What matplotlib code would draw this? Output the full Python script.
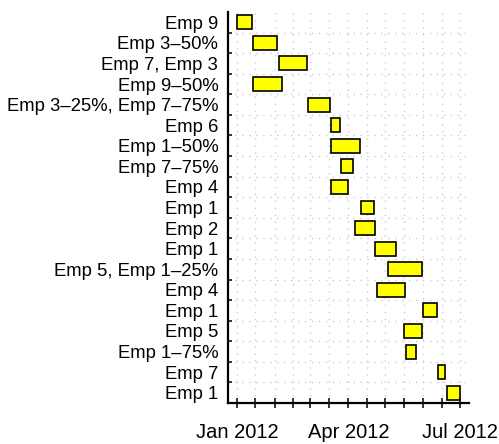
import numpy as np
import pandas as pd
import matplotlib
matplotlib.use("Agg")
import matplotlib.pyplot as plt
import matplotlib.dates as mdates

plt.rcParams["font.family"] = ["Liberation Sans", "DejaVu Sans"]

# task labels, top to bottom
tasks = ["Emp 9", "Emp 3\u201350%", "Emp 7, Emp 3", "Emp 9\u201350%",
         "Emp 3\u201325%, Emp 7\u201375%", "Emp 6", "Emp 1\u201350%",
         "Emp 7\u201375%", "Emp 4", "Emp 1", "Emp 2", "Emp 1",
         "Emp 5, Emp 1\u201325%", "Emp 4", "Emp 1", "Emp 5",
         "Emp 1\u201375%", "Emp 7", "Emp 1"]
starts = ["2012-01-01", "2012-01-14", "2012-02-04", "2012-01-14",
          "2012-02-28", "2012-03-18", "2012-03-18", "2012-03-26",
          "2012-03-18", "2012-04-11", "2012-04-06", "2012-04-23",
          "2012-05-03", "2012-04-24", "2012-06-01", "2012-05-16",
          "2012-05-18", "2012-06-13", "2012-06-20"]
ends = ["2012-01-13", "2012-02-03", "2012-02-27", "2012-02-07",
        "2012-03-17", "2012-03-25", "2012-04-10", "2012-04-05",
        "2012-04-01", "2012-04-22", "2012-04-23", "2012-05-10",
        "2012-05-31", "2012-05-17", "2012-06-12", "2012-05-31",
        "2012-05-26", "2012-06-19", "2012-07-01"]

start_num = mdates.date2num(pd.to_datetime(starts))
end_num = mdates.date2num(pd.to_datetime(ends))
rows = np.arange(len(tasks))

fig = plt.figure(figsize=(4.99, 4.44), dpi=100)
ax = fig.add_axes([228 / 499, 1 - 403 / 444, 241 / 499, 391 / 444])

ax.barh(rows, end_num - start_num, left=start_num, height=0.68,
        color="#ffff00", edgecolor="black", linewidth=1.2, zorder=3)

# R style 4% extension of the date range
lo, hi = start_num.min(), end_num.max()
pad = 0.04 * (hi - lo)
ax.set_xlim(lo - pad, hi + pad)
ax.set_ylim(len(tasks) - 0.5, -0.5)

# x axis: half-month ticks, labels every quarter
ax.xaxis.set_major_locator(mdates.MonthLocator(bymonth=[1, 4, 7]))
ax.xaxis.set_major_formatter(mdates.DateFormatter("%b %Y"))
ax.xaxis.set_minor_locator(mdates.DayLocator(bymonthday=[1, 16]))
ax.tick_params(axis="x", which="both", direction="inout", length=7,
               width=1.1, labelsize=14.5, pad=11)

ax.set_yticks(rows)
ax.set_yticklabels(tasks)
ax.set_yticks(rows[:-1] + 0.5, minor=True)
ax.tick_params(axis="y", which="major", length=0, labelsize=13.3, pad=7)
ax.tick_params(axis="y", which="minor", direction="in", length=3, width=1.1)

# dotted grid
grid_x = list(ax.get_xticks(minor=True)) + list(ax.get_xticks())
for t in grid_x:
    ax.axvline(t, color="#cccccc", lw=1, ls=(0, (1, 4)), zorder=1)
for r in rows[:-1] + 0.5:
    ax.axhline(r, color="#cccccc", lw=1, ls=(0, (1, 4)), zorder=1)

ax.spines["top"].set_visible(False)
ax.spines["right"].set_visible(False)
ax.spines["left"].set_linewidth(1.6)
ax.spines["bottom"].set_linewidth(1.6)

fig.savefig("out.png", dpi=100)
